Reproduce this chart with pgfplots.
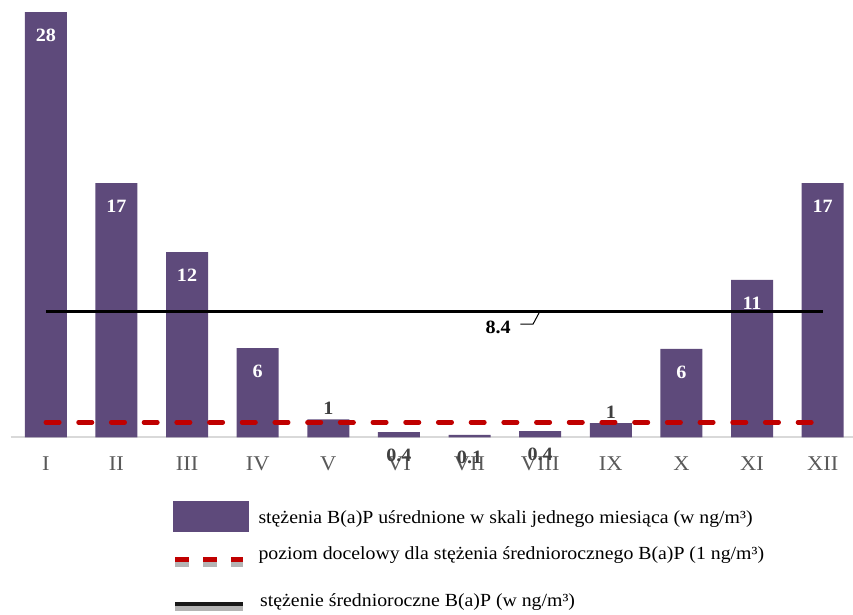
\documentclass[border=0pt]{standalone}
\usepackage{fontspec}
\setmainfont{Liberation Serif}[FakeStretch=1.07]
\usepackage{pgfplots}
\pgfplotsset{compat=1.18}
\definecolor{barc}{RGB}{94,74,123}
\definecolor{redc}{RGB}{192,0,0}
\definecolor{tickc}{RGB}{89,89,89}
\definecolor{lblc}{RGB}{64,64,64}
\definecolor{axc}{RGB}{217,217,217}
\definecolor{shadc}{RGB}{180,180,180}
\begin{document}
\begin{tikzpicture}[x=1pt,y=1pt]
\useasboundingbox (0,0) rectangle (853,614);
\begin{axis}[
  at={(10.5pt,176.7pt)}, anchor=south west,
  scale only axis, width=842.5pt, height=437.3pt,
  xmin=0.5, xmax=12.43, ymin=0, ymax=29.153,
  axis x line=bottom, axis y line=none,
  x axis line style={draw=axc, line width=2pt, -},
  xtick={1,...,12},
  xticklabels={I,II,III,IV,V,VI,VII,VIII,IX,X,XI,XII},
  major tick length=0pt, tick style={draw=none},
  xticklabel style={font=\fontsize{21}{25}\selectfont, text=tickc, anchor=center, yshift=-26pt},
  clip=false,
]
\addplot[ybar, bar width=42pt, fill=barc, draw=none] coordinates {
(1,28.35) (2,16.95) (3,12.35) (4,5.95) (5,1.2) (6,0.35) (7,0.17) (8,0.42) (9,0.95) (10,5.9) (11,10.5) (12,16.95)};
\addplot[redc, line width=4.5pt, line cap=round, dash pattern=on 13.5pt off 19.2pt] coordinates {(1,1) (12,1)};
\addplot[black, line width=2.5pt] coordinates {(1,8.4) (12,8.4)};
\addplot[black, line width=1pt] coordinates {(7.72,7.55) (7.90,7.55) (7.985,8.3)};
% inside-end labels
\addplot[draw=none, point meta=explicit symbolic, nodes near coords,
  nodes near coords style={anchor=center, yshift=-23.5pt, inner sep=0pt, font=\bfseries\fontsize{18.8}{20}\selectfont, text=white}]
  coordinates {(1,28.35)[28] (2,16.95)[17] (3,12.35)[12] (4,5.95)[6] (10,5.9)[6] (11,10.5)[11] (12,16.95)[17]};
\addplot[draw=none, point meta=explicit symbolic, nodes near coords,
  nodes near coords style={anchor=center, yshift=-23pt, inner sep=0pt, font=\bfseries\fontsize{18.8}{20}\selectfont, text=lblc}]
  coordinates {(6,0.35)[0.4] (7,0.17)[0.1] (8,0.42)[0.4]};
\addplot[draw=none, point meta=explicit symbolic, nodes near coords,
  nodes near coords style={anchor=center, yshift=11pt, inner sep=0pt, font=\bfseries\fontsize{18.8}{20}\selectfont, text=lblc}]
  coordinates {(5,1.2)[1] (9,0.95)[1]};
\addplot[draw=none, point meta=explicit symbolic, nodes near coords,
  nodes near coords style={anchor=center, yshift=0pt, inner sep=0pt, font=\bfseries\fontsize{18.8}{20}\selectfont, text=black}]
  coordinates {(7.405,7.35)[8.4]};
\end{axis}
% legend
\fill[barc] (172.7,82.3) rectangle (248.7,113);
\node[anchor=base west, inner sep=0pt, font=\fontsize{18.5}{22}\selectfont] at (258.3,91) {stężenia B(a)P uśrednione w skali jednego miesiąca (w ng/m³)};
\foreach \a/\b in {175/189,203/217,231/243}{
  \fill[redc] (\a,52) rectangle (\b,57);
  \fill[shadc] (\a,47) rectangle (\b,52);
}
\node[anchor=base west, inner sep=0pt, font=\fontsize{18.5}{22}\selectfont] at (258.3,55) {poziom docelowy dla stężenia średniorocznego B(a)P (1 ng/m³)};
\fill[black!90] (175,8) rectangle (243,12.5);
\fill[shadc] (175,3) rectangle (243,8);
\node[anchor=base west, inner sep=0pt, font=\fontsize{18.5}{22}\selectfont] at (260,8) {stężenie średnioroczne B(a)P (w ng/m³)};
\end{tikzpicture}
\end{document}
